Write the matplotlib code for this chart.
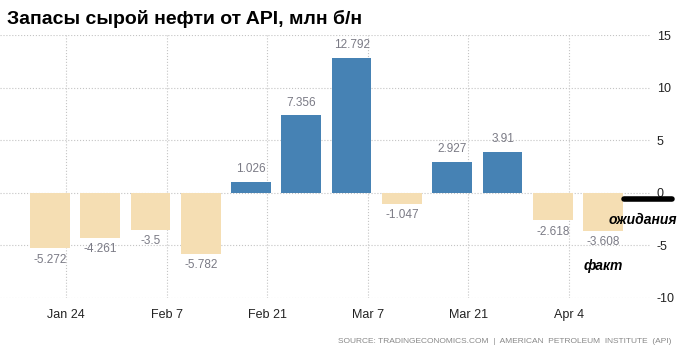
import numpy as np
import matplotlib.pyplot as plt

plt.rcParams['font.family'] = ['Liberation Sans', 'DejaVu Sans']
plt.rcParams['axes.unicode_minus'] = False

# weekly values, mln barrels
values = [-5.272, -4.261, -3.5, -5.782, 1.026, 7.356, 12.792, -1.047, 2.927, 3.91, -2.618, -3.608]
labels = ['-5.272', '-4.261', '-3.5', '-5.782', '1.026', '7.356', '12.792', '-1.047', '2.927', '3.91', '-2.618', '-3.608']
tick_labels = ['Jan 24', 'Feb 7', 'Feb 21', 'Mar 7', 'Mar 21', 'Apr 4']
forecast = -0.57

x = np.arange(len(values))
colors = ['#4682b4' if v >= 0 else '#f5deb3' for v in values]

fig = plt.figure(figsize=(6.77, 3.51), dpi=100)
ax = fig.add_axes([0.0, 0.151, 0.960, 0.749])

ax.bar(x, values, width=0.79, color=colors, zorder=2)

for xi, v, s in zip(x, values, labels):
    if v >= 0:
        ax.annotate(s, (xi, v), xytext=(0, 5), textcoords='offset points',
                    ha='center', va='bottom', fontsize=8.5, color='#7a7a85')
    else:
        ax.annotate(s, (xi, v), xytext=(0, -4), textcoords='offset points',
                    ha='center', va='top', fontsize=8.5, color='#7a7a85')

ax.set_xlim(-0.99, 11.93)
ax.set_ylim(-10, 15)
ax.set_yticks([-10, -5, 0, 5, 10, 15])
ax.set_xticks(np.arange(0, 12, 2) + 0.32)
ax.set_xticklabels(tick_labels)
ax.yaxis.tick_right()
ax.tick_params(axis='both', length=0, labelsize=9, colors='#222222')
ax.tick_params(axis='y', pad=5)
ax.tick_params(axis='x', pad=8)
ax.grid(True, linestyle=':', color='#c4c4c4', linewidth=0.8, zorder=0)
for sp in ax.spines.values():
    sp.set_visible(False)

# expectation marker and notes
ax.plot([11.42, 12.36], [forecast, forecast], color='black', linewidth=4,
        solid_capstyle='round', clip_on=False, zorder=3)
ax.text(12.46, -2.55, 'ожидания', fontsize=10, fontweight='bold', style='italic',
        ha='right', va='center', color='black')
ax.text(11.0, -7.0, 'факт', fontsize=10, fontweight='bold', style='italic',
        ha='center', va='center', color='black')

fig.text(0.011, 0.947, 'Запасы сырой нефти от API, млн б/н', fontsize=14,
         fontweight='bold', ha='left', va='center')
fig.text(0.992, 0.028, 'SOURCE: TRADINGECONOMICS.COM  |  AMERICAN  PETROLEUM  INSTITUTE  (API)',
         fontsize=6, color='#888888', ha='right', va='center')

fig.savefig('out.png', dpi=100)
